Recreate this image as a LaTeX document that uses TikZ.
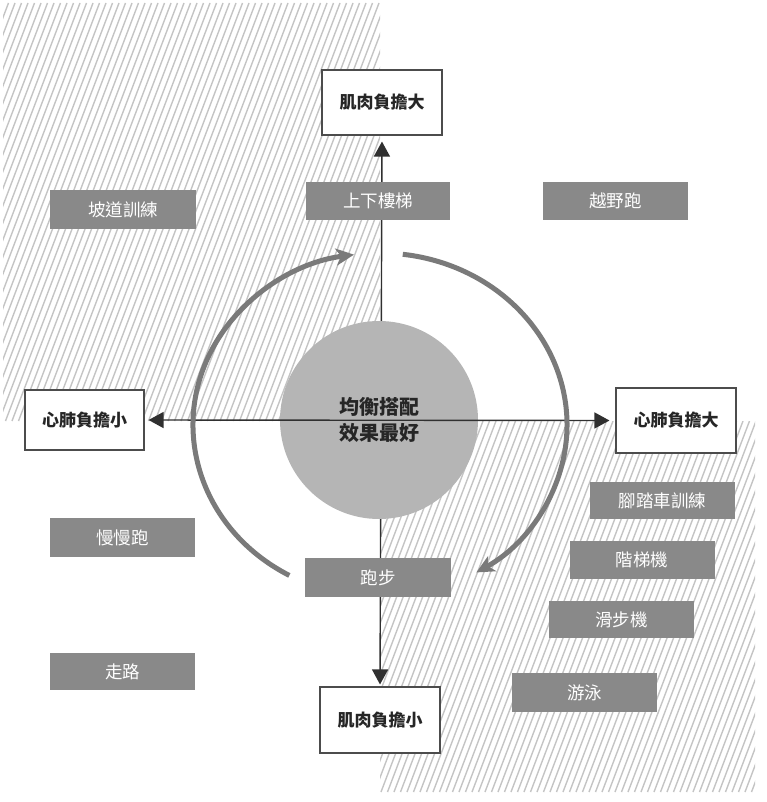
\documentclass[tikz,border=0pt]{standalone}
\usepackage{fontspec}
\newfontfamily\cjk{Noto Sans CJK TC}
\usetikzlibrary{arrows.meta}
\definecolor{hatchgray}{HTML}{C4C4C4}
\definecolor{boxgray}{HTML}{898989}
\definecolor{circgray}{HTML}{B5B5B5}
\definecolor{arcgray}{HTML}{7A7A7A}
\definecolor{axisgray}{HTML}{303030}
\tikzset{
  whitebox/.style={draw=black!70, line width=1.1pt, fill=white, minimum width=120pt, minimum height=65pt, inner sep=0pt, font=\cjk\bfseries\fontsize{17}{20}\selectfont, text=black!85},
  graybox/.style={fill=boxgray, minimum width=145pt, minimum height=38pt, inner sep=0pt, font=\cjk\fontsize{17.5}{20}\selectfont, text=white},
  hatchline/.style={draw=hatchgray, line width=1.4pt},
  axisline/.style={draw=axisgray, line width=1.4pt, {Triangle[length=15pt,width=16pt]}-{Triangle[length=15pt,width=16pt]}},
  cyclearc/.style={draw=arcgray, line width=5pt, -{Stealth[length=18pt,width=17pt,inset=5pt]}}
}
\begin{document}
\begin{tikzpicture}[x=1pt,y=1pt]
\useasboundingbox (0,0) rectangle (767,-802);
% hatched regions
\begin{scope}
  \clip (3,-3) rectangle (380,-421);
  \foreach \x in {-170,-163.5,...,385} { \draw[hatchline] (\x,-421) -- ++(159,418); }
\end{scope}
\begin{scope}
  \clip (380,-421) rectangle (755,-792);
  \foreach \x in {225,231.5,...,760} { \draw[hatchline] (\x,-792) -- ++(141,371); }
\end{scope}
% end boxes
\node[whitebox] (top) at (382,-102.5) {肌肉負擔大};
\node[whitebox, minimum height=66pt] (bot) at (380,-720) {肌肉負擔小};
\node[whitebox, minimum width=119pt, minimum height=60pt] (lft) at (84.5,-420) {心肺負擔小};
\node[whitebox] (rgt) at (676,-420.5) {心肺負擔大};
% vertical axis
\draw[axisline, shorten >=6pt, shorten <=2pt] (bot.north) -- (top.south);
% centre circle
\node[circle, fill=circgray, minimum size=198pt, inner sep=0pt, align=center, font=\cjk\bfseries\fontsize{20}{26}\selectfont, text=black!85] (mid) at (379,-420) {均衡搭配\\效果最好};
% horizontal axis
\draw[axisline, shorten >=6pt, shorten <=4pt] (lft.east) -- (rgt.west);
% gray boxes
\node[graybox, minimum width=144pt] (stairs) at (378,-201) {上下樓梯};
\node[graybox, minimum width=146pt, minimum height=39pt] (slope) at (123,-209.5) {坡道訓練};
\node[graybox] (trail) at (615.5,-201) {越野跑};
\node[graybox, minimum height=39pt] (jog) at (122.5,-537.5) {慢慢跑};
\node[graybox, minimum height=37pt] (walk) at (122.5,-671.5) {走路};
\node[graybox, minimum width=146pt, minimum height=39pt] (run) at (378,-577.5) {跑步};
\node[graybox, minimum height=37pt] (bike) at (662.5,-500.5) {腳踏車訓練};
\node[graybox] (stepper) at (642,-560) {階梯機};
\node[graybox, minimum height=37pt] (glide) at (621.5,-619.5) {滑步機};
\node[graybox, minimum height=39pt] (swim) at (584.5,-692.5) {游泳};
% cycle arcs
\coordinate (e) at (380,-425);
\draw[cyclearc] ([shift={(241:187 and 172)}]e) arc[start angle=241, end angle=98, x radius=187, y radius=172];
\draw[cyclearc] ([shift={(83:187 and 172)}]e) arc[start angle=83, end angle=-59, x radius=187, y radius=172];
\end{tikzpicture}
\end{document}
